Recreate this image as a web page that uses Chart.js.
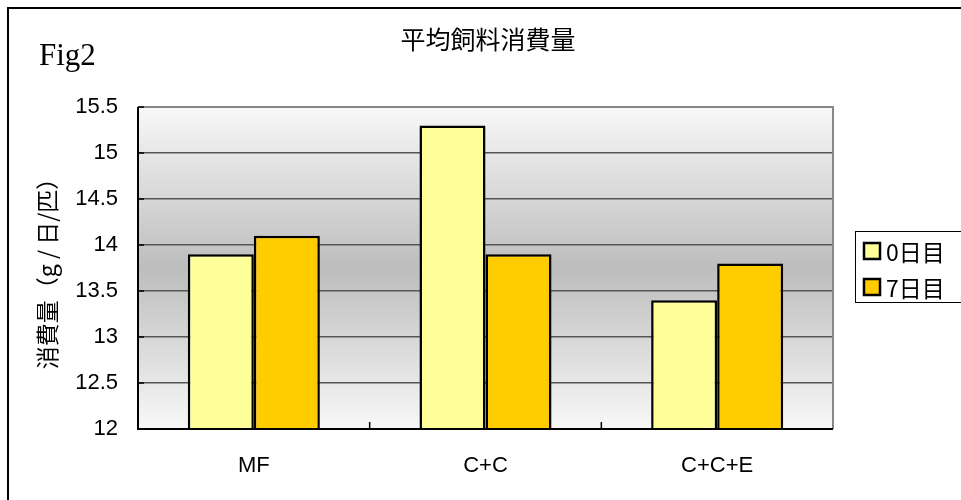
<!DOCTYPE html>
<html>
<head>
<meta charset="utf-8">
<script src="https://cdn.jsdelivr.net/npm/chart.js@4/dist/chart.umd.min.js"></script>
<style>
  html, body { margin: 0; padding: 0; background: #fff; }
  #wrap { position: relative; width: 961px; height: 500px; overflow: hidden; }
  #frame { position: absolute; left: 7px; top: 7px; width: 980px; height: 520px;
           border-left: 2px solid #000; border-top: 2px solid #000; box-sizing: border-box; }
  canvas { position: absolute; left: 0; top: 0; }
</style>
</head>
<body>
<div id="wrap">
  <div id="frame"></div>
  <canvas id="c" width="961" height="500"></canvas>
</div>
<script>
// Feed consumption per group, at day 0 and day 7
const categories = ['MF', 'C+C', 'C+C+E'];
const seriesNames = ['0日目', '7日目'];
const day0 = [13.9, 15.3, 13.4];
const day7 = [14.1, 13.9, 13.8];
const yTicks = [12, 12.5, 13, 13.5, 14, 14.5, 15, 15.5];
const titleText = '平均飼料消費量';
const figText = 'Fig2';
const yTitle = '消費量（g / 日/匹）';

const colors = ['#FFFF99', '#FFCC00'];
const sansFont = '"Liberation Sans", Arial, "Noto Sans CJK JP", sans-serif';
const cjkFont = '"Noto Sans CJK JP", "Liberation Sans", sans-serif';

// Gray gradient behind the plot, frame, inward ticks, title and legend
const backdrop = {
  id: 'backdrop',
  beforeDraw(chart) {
    const { ctx, chartArea: a } = chart;
    const g = ctx.createLinearGradient(0, a.top, 0, a.bottom);
    g.addColorStop(0, '#f8f8f8');
    g.addColorStop(0.5, '#bdbdbd');
    g.addColorStop(1, '#f8f8f8');
    ctx.save();
    ctx.fillStyle = g;
    ctx.fillRect(a.left, a.top, a.right - a.left, a.bottom - a.top);
    ctx.restore();
  },
  afterDatasetsDraw(chart) {
    const { ctx, chartArea: a, scales } = chart;
    ctx.save();
    ctx.strokeStyle = '#888';
    ctx.lineWidth = 2;
    ctx.beginPath();
    ctx.moveTo(a.left, a.top);
    ctx.lineTo(a.right, a.top);
    ctx.lineTo(a.right, a.bottom);
    ctx.stroke();
    ctx.strokeStyle = '#000';
    ctx.lineWidth = 2;
    ctx.beginPath();
    ctx.moveTo(a.left, a.top);
    ctx.lineTo(a.left, a.bottom);
    ctx.lineTo(a.right, a.bottom);
    ctx.stroke();
    ctx.lineWidth = 1.5;
    ctx.beginPath();
    scales.y.ticks.forEach(t => {
      const y = scales.y.getPixelForValue(t.value);
      ctx.moveTo(a.left, y);
      ctx.lineTo(a.left + 6, y);
    });
    const n = categories.length;
    for (let i = 1; i < n; i++) {
      const x = (scales.x.getPixelForValue(i - 1) + scales.x.getPixelForValue(i)) / 2;
      ctx.moveTo(x, a.bottom);
      ctx.lineTo(x, a.bottom - 7);
    }
    ctx.stroke();
    ctx.restore();
  },
  afterDraw(chart) {
    const { ctx } = chart;
    ctx.save();
    ctx.fillStyle = '#000';
    ctx.textBaseline = 'middle';
    ctx.font = '25px ' + cjkFont;
    ctx.textAlign = 'center';
    ctx.fillText(titleText, 488, 39);
    ctx.font = '31px "Liberation Serif", "DejaVu Serif", serif';
    ctx.textAlign = 'left';
    ctx.fillText(figText, 39, 57);
    ctx.strokeStyle = '#000';
    ctx.lineWidth = 1;
    ctx.strokeRect(855.5, 231.5, 110, 71);
    chart.data.datasets.forEach((ds, i) => {
      const cy = 251 + i * 36;
      ctx.fillStyle = ds.backgroundColor;
      ctx.fillRect(864, cy - 8, 16, 16);
      ctx.lineWidth = 2.5;
      ctx.strokeRect(864, cy - 8, 16, 16);
      ctx.fillStyle = '#000';
      ctx.font = '23px ' + cjkFont;
      ctx.textAlign = 'left';
      ctx.fillText(ds.label, 886, cy + 1);
    });
    ctx.restore();
  }
};

new Chart(document.getElementById('c'), {
  type: 'bar',
  data: {
    labels: categories,
    datasets: [
      { label: seriesNames[0], data: day0, backgroundColor: colors[0], borderColor: '#000', borderWidth: 2.5 },
      { label: seriesNames[1], data: day7, backgroundColor: colors[1], borderColor: '#000', borderWidth: 2.5 }
    ]
  },
  options: {
    responsive: false,
    animation: false,
    devicePixelRatio: 1,
    layout: { padding: { left: 0, top: 107, right: 128, bottom: 0 } },
    plugins: { legend: { display: false }, title: { display: false }, tooltip: { enabled: false } },
    datasets: { bar: { categoryPercentage: 0.57, barPercentage: 1.0 } },
    scales: {
      x: {
        grid: { display: false, drawTicks: false },
        border: { display: false },
        ticks: { color: '#000', font: { family: sansFont, size: 22 }, padding: 24, maxRotation: 0 },
        afterFit(s) { s.height = 71; }
      },
      y: {
        min: 12, max: 15.5,
        afterBuildTicks(s) { s.ticks = yTicks.map(v => ({ value: v })); },
        grid: { color: '#555', lineWidth: 1.5, drawTicks: false },
        border: { display: false },
        ticks: { color: '#000', font: { family: sansFont, size: 22 }, padding: 20,
                 callback: v => String(v) },
        title: { display: true, text: yTitle, color: '#000', font: { family: cjkFont, size: 23 }, padding: { top: 33, bottom: 0 } },
        afterFit(s) { s.width = 138; }
      }
    }
  },
  plugins: [backdrop]
});
</script>
</body>
</html>
